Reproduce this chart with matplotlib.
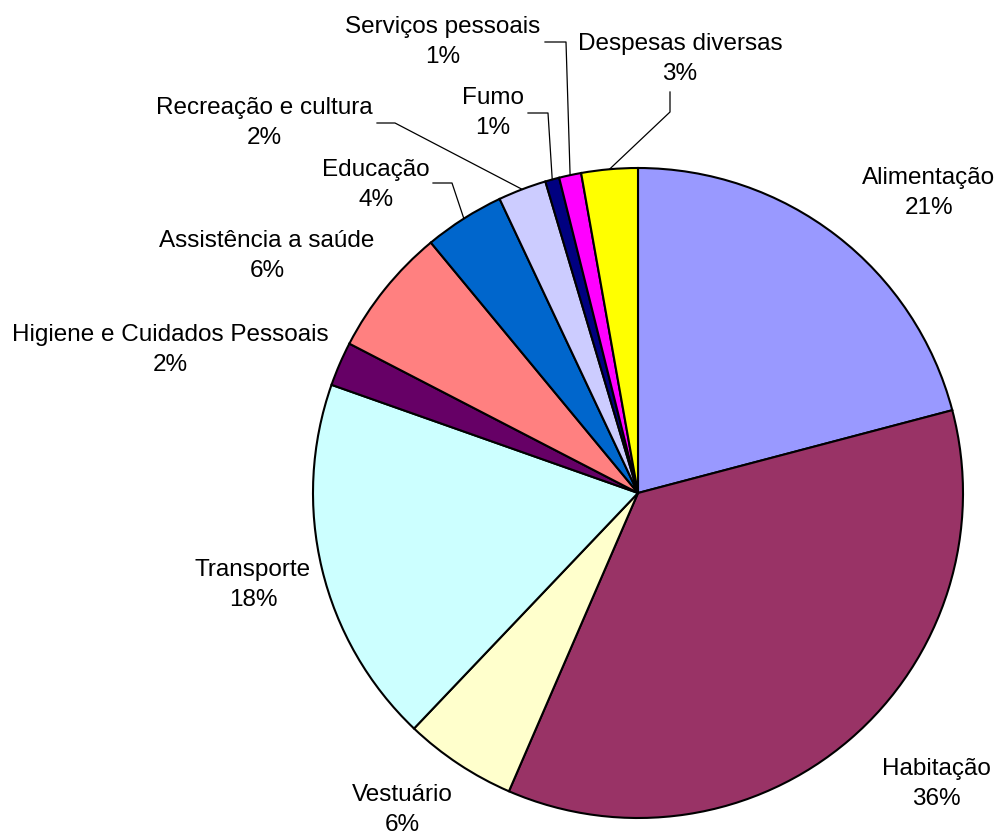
import matplotlib.pyplot as plt
import numpy as np

plt.rcParams['font.family'] = ['Liberation Sans', 'DejaVu Sans']

categories = ['Alimentação', 'Habitação', 'Vestuário', 'Transporte',
              'Higiene e Cuidados Pessoais', 'Assistência a saúde', 'Educação',
              'Recreação e cultura', 'Fumo', 'Serviços pessoais', 'Despesas diversas']
values = [20.9, 35.6, 5.6, 18.3, 2.2, 6.4, 4.0, 2.4, 0.7, 1.1, 2.8]
colors = ['#9999FF', '#993366', '#FFFFCC', '#CCFFFF', '#660066', '#FF8080',
          '#0066CC', '#CCCCFF', '#000080', '#FF00FF', '#FFFF00']

# label centres, in pixels of the 1001x836 picture
label_pos = {
    'Alimentação': (929, 193),
    'Habitação': (936, 784),
    'Vestuário': (402, 810),
    'Transporte': (253, 585),
    'Higiene e Cuidados Pessoais': (170, 350),
    'Assistência a saúde': (267, 256),
    'Educação': (376, 185),
    'Recreação e cultura': (264, 123),
    'Fumo': (493, 113),
    'Serviços pessoais': (443, 42),
    'Despesas diversas': (680, 59),
}
# leader lines: label-side start and elbow, in pixels
leaders = {
    'Recreação e cultura': [(377, 123), (395, 123)],
    'Educação': [(433, 183), (452, 183)],
    'Fumo': [(528, 113), (548, 113)],
    'Serviços pessoais': [(545, 42), (566, 42)],
    'Despesas diversas': [(670, 92), (670, 112)],
}

W, H = 1001, 836
cx, cy, R = 638, 493, 325


def px(x, y):
    return (x - cx) / R, (cy - y) / R


fig = plt.figure(figsize=(W / 100, H / 100), dpi=100)
ax = fig.add_axes([0, 0, 1, 1])
wedges, _ = ax.pie(values, colors=colors, startangle=90, counterclock=False,
                   radius=1, center=(0, 0),
                   wedgeprops=dict(edgecolor='black', linewidth=1.5))
ax.set_xlim(-cx / R, (W - cx) / R)
ax.set_ylim((cy - H) / R, cy / R)
ax.axis('off')

for w, name, v in zip(wedges, categories, values):
    tx, ty = px(*label_pos[name])
    ax.text(tx, ty, f"{name}\n{round(v)}%", ha='center', va='center',
            fontsize=17.5, linespacing=1.5)
    if name in leaders:
        mid = np.deg2rad((w.theta1 + w.theta2) / 2)
        pts = [px(*p) for p in leaders[name]] + [(np.cos(mid), np.sin(mid))]
        xs, ys = zip(*pts)
        ax.plot(xs, ys, color='black', linewidth=0.9)

fig.savefig('out.png', dpi=100)
